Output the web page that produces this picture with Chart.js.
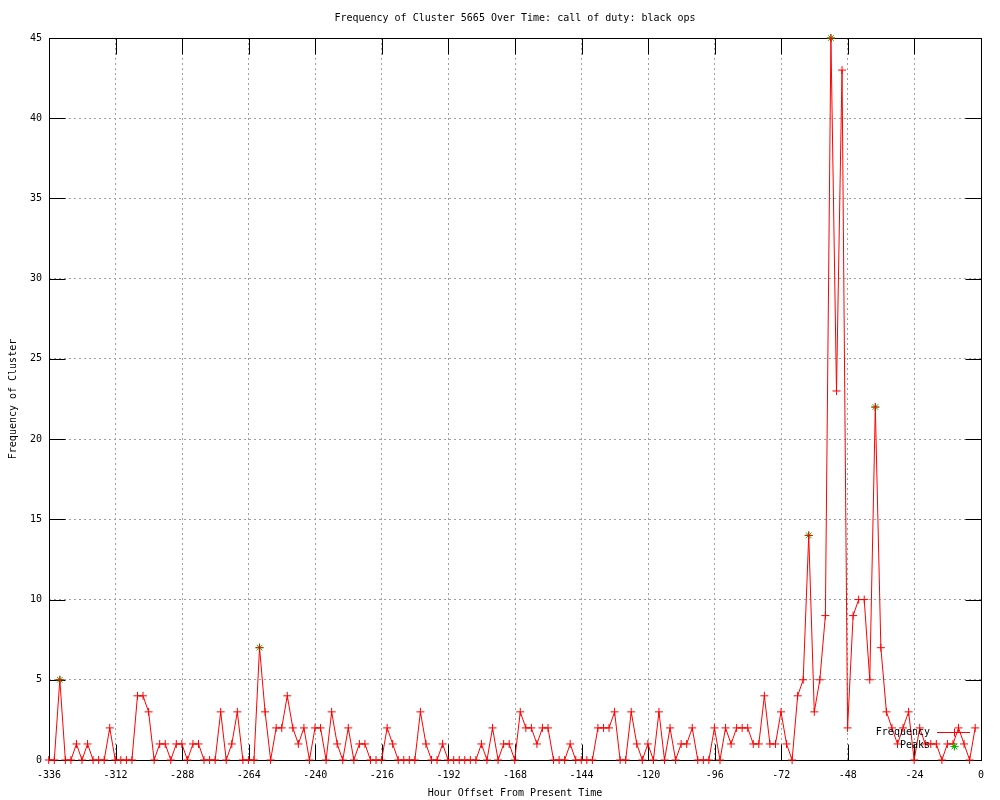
<!DOCTYPE html>
<html><head><meta charset="utf-8">
<script src="https://cdn.jsdelivr.net/npm/chart.js@4.4.0/dist/chart.umd.min.js"></script>
<style>html,body{margin:0;padding:0;background:#fff;}canvas{display:block;}</style>
</head><body>
<canvas id="c" width="1000" height="800"></canvas>
<script>
const titleText = 'Frequency of Cluster 5665 Over Time: call of duty: black ops';
const xAxisLabel = 'Hour Offset From Present Time';
const yAxisLabel = 'Frequency of Cluster';
const seriesNames = ['Frequency', 'Peaks'];

const hours = [
  -336.1,-334.1,-332.1,-330.1,-328.1,-326.1,-324.1,-322.1,-320.1,-318.1,
  -316.1,-314.1,-312.1,-310.1,-308.1,-306.1,-304.1,-302.1,-300.1,-298.1,
  -296.1,-294.1,-292.1,-290.1,-288.1,-286.1,-284.1,-282.1,-280.1,-278.1,
  -276.1,-274.1,-272.1,-270.1,-268.1,-266.1,-264.1,-262.1,-260.1,-258.1,
  -256.1,-254.1,-252.1,-250.1,-248.1,-246.1,-244.1,-242.1,-240.1,-238.1,
  -236.1,-234.1,-232.1,-230.1,-228.1,-226.1,-224.1,-222.1,-220.1,-218.1,
  -216.1,-214.1,-212.1,-210.1,-208.1,-206.1,-204.1,-202.1,-200.1,-198.1,
  -196.1,-194.1,-192.1,-190.1,-188.1,-186.1,-184.1,-182.1,-180.1,-178.1,
  -176.1,-174.1,-172.1,-170.1,-168.1,-166.1,-164.1,-162.1,-160.1,-158.1,
  -156.1,-154.1,-152.1,-150.1,-148.1,-146.1,-144.1,-142.1,-140.1,-138.1,
  -136.1,-134.1,-132.1,-130.1,-128.1,-126.1,-124.1,-122.1,-120.1,-118.1,
  -116.1,-114.1,-112.1,-110.1,-108.1,-106.1,-104.1,-102.1,-100.1,-98.1,
  -96.1,-94.1,-92.1,-90.1,-88.1,-86.1,-84.1,-82.1,-80.1,-78.1,
  -76.1,-74.1,-72.1,-70.1,-68.1,-66.1,-64.1,-62.1,-60.1,-58.1,
  -56.1,-54.1,-52.1,-50.1,-48.1,-46.1,-44.1,-42.1,-40.1,-38.1,
  -36.1,-34.1,-32.1,-30.1,-28.1,-26.1,-24.1,-22.1,-20.1,-18.1,
  -16.1,-14.1,-12.1,-10.1,-8.1,-6.1,-4.1,-2.1
];
const frequency = [
  0,0,5,0,0,1,0,1,0,0,
  0,2,0,0,0,0,4,4,3,0,
  1,1,0,1,1,0,1,1,0,0,
  0,3,0,1,3,0,0,0,7,3,
  0,2,2,4,2,1,2,0,2,2,
  0,3,1,0,2,0,1,1,0,0,
  0,2,1,0,0,0,0,3,1,0,
  0,1,0,0,0,0,0,0,1,0,
  2,0,1,1,0,3,2,2,1,2,
  2,0,0,0,1,0,0,0,0,2,
  2,2,3,0,0,3,1,0,1,0,
  3,0,2,0,1,1,2,0,0,0,
  2,0,2,1,2,2,2,1,1,4,
  1,1,3,1,0,4,5,14,3,5,
  9,45,23,43,2,9,10,10,5,22,
  7,3,2,1,2,3,0,2,1,1,
  1,0,1,1,2,1,0,2
];
const peakHours = [-332.1, -260.1, -62.1, -54.1, -38.1];
const peakValues = [5, 7, 14, 45, 22];
const xTicks = [-336,-312,-288,-264,-240,-216,-192,-168,-144,-120,-96,-72,-48,-24,0];
const yTicks = [0,5,10,15,20,25,30,35,40,45];

const FONT_FAMILY = '"DejaVu Sans Mono", "Liberation Mono", monospace';
const FONT = '10px ' + FONT_FAMILY;
const RED = '#ff0000';
const GREEN = '#00c000';
const TICK_LEN = 16;

function drawMarker(ctx, style, x, y, r) {
  ctx.beginPath();
  ctx.moveTo(x - r, y); ctx.lineTo(x + r, y);
  ctx.moveTo(x, y - r); ctx.lineTo(x, y + r);
  if (style === 'star') {
    const d = r * Math.SQRT1_2;
    ctx.moveTo(x - d, y - d); ctx.lineTo(x + d, y + d);
    ctx.moveTo(x - d, y + d); ctx.lineTo(x + d, y - d);
  }
  ctx.stroke();
}

const gnuplotDecor = {
  id: 'gnuplotDecor',
  beforeDatasetsDraw(chart) {
    const {ctx, chartArea: a, scales} = chart;
    const L = Math.round(a.left) + 0.5, R = Math.round(a.right) + 0.5;
    const T = Math.round(a.top) + 0.5, B = Math.round(a.bottom) + 0.5;
    ctx.save();
    ctx.strokeStyle = '#000';
    ctx.lineWidth = 1;
    ctx.beginPath();
    xTicks.forEach(v => {
      const px = Math.round(scales.x.getPixelForValue(v)) + 0.5;
      ctx.moveTo(px, B); ctx.lineTo(px, B - TICK_LEN);
      ctx.moveTo(px, T); ctx.lineTo(px, T + TICK_LEN);
    });
    yTicks.forEach(v => {
      const py = Math.round(scales.y.getPixelForValue(v)) + 0.5;
      ctx.moveTo(L, py); ctx.lineTo(L + TICK_LEN, py);
      ctx.moveTo(R, py); ctx.lineTo(R - TICK_LEN, py);
    });
    ctx.stroke();
    ctx.strokeRect(L, T, R - L, B - T);
    ctx.restore();
  },
  afterDatasetsDraw(chart) {
    const {ctx, chartArea: a} = chart;
    ctx.save();
    ctx.fillStyle = '#000';
    ctx.font = FONT;
    const cx = (a.left + a.right) / 2;
    ctx.textAlign = 'center';
    ctx.textBaseline = 'middle';
    ctx.fillText(titleText, cx, 18);
    ctx.fillText(xAxisLabel, cx, 793);
    ctx.save();
    ctx.translate(13, (a.top + a.bottom) / 2);
    ctx.rotate(-Math.PI / 2);
    ctx.fillText(yAxisLabel, 0, 0);
    ctx.restore();
    // key
    const textRight = a.right - 51;
    const sampleL = a.right - 44, sampleR = a.right - 11;
    const sampleMid = (sampleL + sampleR) / 2;
    const y1 = a.bottom - 28, y2 = a.bottom - 14.5;
    ctx.textAlign = 'right';
    ctx.fillText(seriesNames[0], textRight, y1);
    ctx.fillText(seriesNames[1], textRight, y2);
    ctx.lineWidth = 1;
    ctx.strokeStyle = RED;
    ctx.beginPath();
    ctx.moveTo(sampleL, Math.round(y1) + 0.5); ctx.lineTo(sampleR, Math.round(y1) + 0.5);
    ctx.stroke();
    drawMarker(ctx, 'cross', Math.round(sampleMid) + 0.5, Math.round(y1) + 0.5, 4);
    ctx.strokeStyle = GREEN;
    drawMarker(ctx, 'star', Math.round(sampleMid) + 0.5, Math.round(y2) + 0.5, 4);
    ctx.restore();
  }
};

const freqData = hours.map((h, i) => ({x: h, y: frequency[i]}));
const peakData = peakHours.map((h, i) => ({x: h, y: peakValues[i]}));

new Chart(document.getElementById('c'), {
  type: 'line',
  data: {
    datasets: [
      {
        label: seriesNames[0], data: freqData,
        borderColor: RED, backgroundColor: RED, borderWidth: 1,
        pointStyle: 'cross', pointRadius: 4, pointBorderWidth: 1,
        pointBorderColor: RED, tension: 0, fill: false, clip: 8
      },
      {
        label: seriesNames[1], data: peakData, showLine: false,
        borderColor: GREEN, backgroundColor: GREEN,
        pointStyle: 'star', pointRadius: 4, pointBorderWidth: 1,
        pointBorderColor: GREEN, clip: 8
      }
    ]
  },
  options: {
    responsive: false,
    animation: false,
    devicePixelRatio: 1,
    layout: {padding: {top: 38, right: 19, left: 0, bottom: 0}},
    plugins: {legend: {display: false}, title: {display: false}, tooltip: {enabled: false}},
    scales: {
      x: {
        type: 'linear', min: -336, max: 0,
        afterBuildTicks: s => { s.ticks = xTicks.map(v => ({value: v})); },
        afterFit: s => { s.height = 40; },
        grid: {color: '#a0a0a0', lineWidth: 1, drawTicks: false, tickLength: 0},
        border: {display: false, dash: [2, 3]},
        ticks: {color: '#000', font: {family: FONT_FAMILY, size: 10}, padding: 9, maxRotation: 0, autoSkip: false}
      },
      y: {
        type: 'linear', min: 0, max: 45,
        afterBuildTicks: s => { s.ticks = yTicks.map(v => ({value: v})); },
        afterFit: s => { s.width = 49; },
        grid: {color: '#a0a0a0', lineWidth: 1, drawTicks: false, tickLength: 0},
        border: {display: false, dash: [2, 3]},
        ticks: {color: '#000', font: {family: FONT_FAMILY, size: 10}, padding: 7}
      }
    }
  },
  plugins: [gnuplotDecor]
});
</script>
</body></html>
